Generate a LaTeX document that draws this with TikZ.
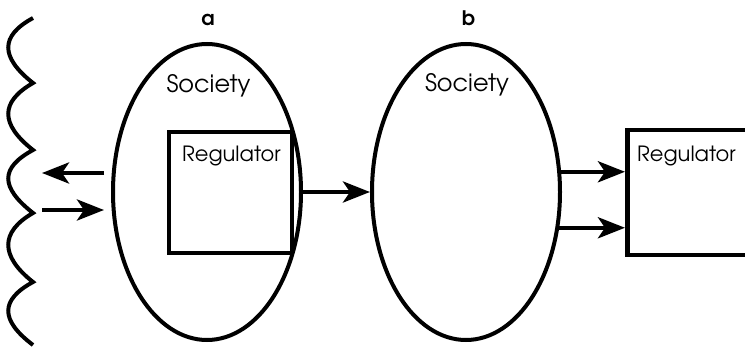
\documentclass[tikz,border=0pt]{standalone}
\usepackage{fontspec}
\setmainfont[BoldFont=texgyreadventor-bold.otf]{texgyreadventor-regular.otf}
\usetikzlibrary{shapes.geometric,arrows.meta}
\begin{document}
\begin{tikzpicture}[x=1pt,y=-1pt,
  arr/.style={line width=4.5pt,-{Stealth[length=27pt,width=21pt,inset=7pt]}},
  soc/.style={ellipse,draw,line width=4pt,minimum width=188pt,minimum height=296pt,inner sep=0pt},
  reg/.style={draw,line width=4.5pt,inner sep=0pt},
  soclbl/.style={font=\fontsize{24}{28}\selectfont,inner sep=0pt,anchor=base},
  reglbl/.style={font=\fontsize{21}{25}\selectfont,inner sep=0pt,anchor=base west},
  ttl/.style={font=\bfseries\fontsize{20}{24}\selectfont,inner sep=0pt,anchor=base},
  wave/.style={line width=4pt}]
\useasboundingbox (0,0) rectangle (745,350);
\clip (0,0) rectangle (745,350);
% wavy boundary
\draw[wave] (33,18) .. controls (0,36) and (0,57) .. (33,83)
  .. controls (0,102) and (0,124) .. (33,150)
  .. controls (0,168) and (0,187) .. (33,213)
  .. controls (0,232) and (0,256) .. (33,282)
  .. controls (0,300) and (0,320) .. (33,345);
% part a
\node[soc] (ea) at (207,192) {};
\node[reg,minimum width=123pt,minimum height=121pt] (ra) at (230.5,192.5) {};
\node[soclbl] (sa) at (208.5,93) {Society};
\node[reglbl] (rla) at (182,162) {Regulator};
\node[ttl] (ta) at (208,26) {a};
% part b
\node[soc] (eb) at (466,192) {};
\node[reg,anchor=west,minimum width=180pt,minimum height=125pt] (rb) at (625,192.5) {};
\node[soclbl] (sb) at (467,92) {Society};
\node[reglbl] (rlb) at (637,162) {Regulator};
\node[ttl] (tb) at (468.5,26) {b};
% connectors
\coordinate (l1a) at (104,173);
\coordinate (l1b) at (42,173);
\coordinate (l2a) at (42,210);
\coordinate (l2b) at (104,210);
\draw[arr] (l1a) -- (l1b);
\draw[arr] (l2a) -- (l2b);
\draw[arr] (ea.east) -- (eb.west);
\draw[arr] (eb.12) -- (eb.12 -| rb.west);
\draw[arr] (eb.-21.5) -- (eb.-21.5 -| rb.west);
\end{tikzpicture}
\end{document}
